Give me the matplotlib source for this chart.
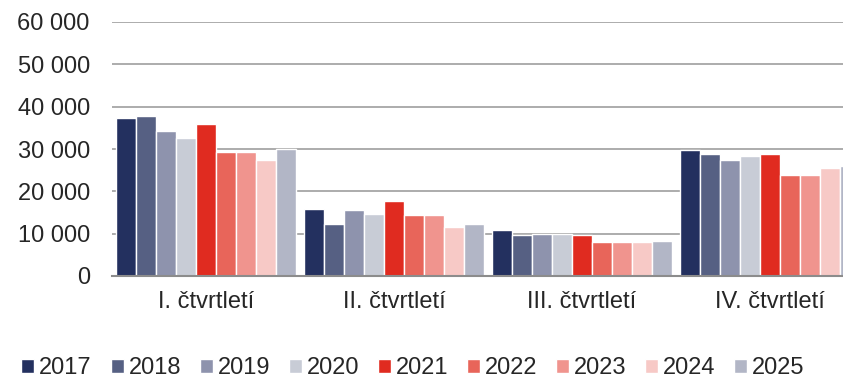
import matplotlib
matplotlib.use("Agg")
import matplotlib.pyplot as plt
import numpy as np
from matplotlib.ticker import FuncFormatter

plt.rcParams['font.family'] = ['Liberation Sans', 'DejaVu Sans']

# quarterly values per year
quarters = ['I. čtvrtletí', 'II. čtvrtletí', 'III. čtvrtletí', 'IV. čtvrtletí']
years = ['2017', '2018', '2019', '2020', '2021', '2022', '2023', '2024', '2025']
values = {
    '2017': [37400, 15900, 10800, 29700],
    '2018': [37900, 12300, 9700, 28800],
    '2019': [34300, 15650, 10000, 27450],
    '2020': [32700, 14700, 9900, 28400],
    '2021': [35800, 17600, 9700, 28900],
    '2022': [29400, 14300, 7950, 23900],
    '2023': [29400, 14300, 7950, 23900],
    '2024': [27400, 11650, 8000, 25500],
    '2025': [30000, 12400, 8250, 26100],
}
colors = ['#23305f', '#566083', '#8e93ad', '#c8ccd6', '#e02b20',
          '#e8655a', '#f0948e', '#f7c9c6', '#b2b6c6']

text_color = '#262626'
grid_color = '#a6a6a6'

W, H = 843, 381
fig = plt.figure(figsize=(W / 100, H / 100), dpi=100)
# the plot area runs past the right edge, so the last bar gets clipped
ax = fig.add_axes([112 / W, (H - 276) / H, 752 / W, 254 / H])

x = np.arange(len(quarters))
bw = 20 / 188
for i, (yr, c) in enumerate(zip(years, colors)):
    ax.bar(x + (i - 4) * bw, values[yr], width=bw, color=c,
           edgecolor='white', linewidth=1.0, label=yr, zorder=3)

ax.set_xlim(-0.5, 3.5)
ax.set_ylim(0, 60000)
ax.set_yticks(np.arange(0, 60001, 10000))
ax.yaxis.set_major_formatter(FuncFormatter(lambda v, p: f"{int(v):,}".replace(',', ' ')))
ax.set_xticks(x)
ax.set_xticklabels(quarters)

ax.grid(axis='y', color=grid_color, linewidth=1.3, zorder=0)
for s in ['top', 'right', 'left']:
    ax.spines[s].set_visible(False)
ax.spines['bottom'].set_color('#8c8c8c')
ax.spines['bottom'].set_linewidth(1.5)
ax.spines['bottom'].set_zorder(4)

ax.tick_params(axis='y', length=0, pad=16, labelsize=17, labelcolor=text_color)
ax.tick_params(axis='x', length=0, pad=11, labelsize=17, labelcolor=text_color)

fig.legend(loc='center', bbox_to_anchor=(413 / W, (H - 368) / H), ncol=9,
           frameon=False, fontsize=17, handlelength=0.55, handleheight=0.55,
           handletextpad=0.2, columnspacing=0.8, labelcolor=text_color,
           borderaxespad=0, borderpad=0)

fig.savefig('out.png', dpi=100)
